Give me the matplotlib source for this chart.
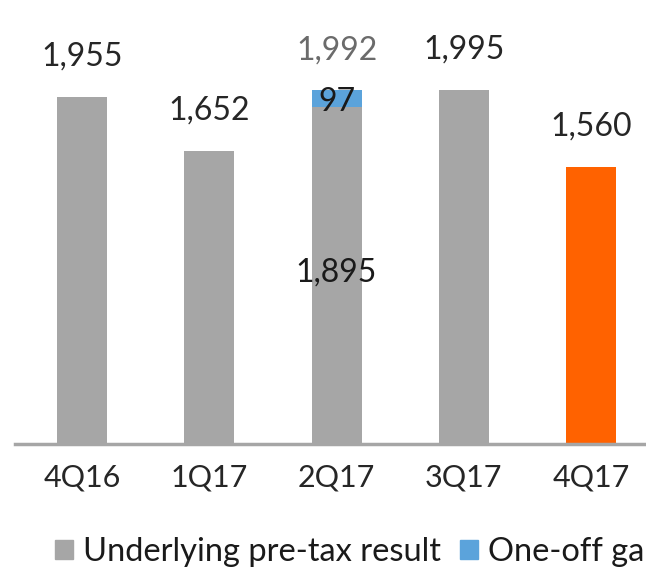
import matplotlib.pyplot as plt
from matplotlib.patches import Patch

quarters = ["4Q16", "1Q17", "2Q17", "3Q17", "4Q17"]
underlying = [1955, 1652, 1895, 1995, 1560]
one_off = [0, 0, 97, 0, 0]
totals = [1955, 1652, 1992, 1995, 1560]

grey = "#A6A6A6"
orange = "#FF6200"
blue = "#5BA3DB"

plt.rcParams['font.family'] = ['Lato', 'DejaVu Sans']

fig = plt.figure(figsize=(6.46, 5.69), dpi=100)
ax = fig.add_axes([15 / 646, 125 / 569, 1.0, 444 / 569])

x = list(range(len(quarters)))
colors = [grey, grey, grey, grey, orange]
ax.bar(x, underlying, width=0.393, color=colors, zorder=2)
ax.bar(x, one_off, width=0.393, bottom=underlying, color=blue, zorder=2)

ax.set_xlim(-0.527, -0.527 + 646 / 127.25)
ax.set_ylim(0, 2500)

# value labels above the bars
for i, t in enumerate(totals):
    col = "#6b6b6b" if one_off[i] else "#262626"
    ax.text(i, t + 225, f"{t:,}", ha="center", va="center", fontsize=23, color=col)
ax.text(2, underlying[2] + 30, "97", ha="center", va="center", fontsize=23, color="#1a1a1a")
ax.text(2, underlying[2] / 2 + 20, f"{underlying[2]:,}", ha="center", va="center",
        fontsize=23, color="#1a1a1a")

for s in ["top", "right", "left"]:
    ax.spines[s].set_visible(False)
ax.spines["bottom"].set_color(grey)
ax.spines["bottom"].set_linewidth(2.5)
ax.set_yticks([])
ax.set_xticks(x)
ax.set_xticklabels(quarters, fontsize=22, color="#262626")
ax.tick_params(axis="x", length=0, pad=14)

handles = [Patch(color=grey), Patch(color=blue)]
fig.legend(handles, ["Underlying pre-tax result", "One-off gain"],
           loc="center left", bbox_to_anchor=(55 / 646, 1 - 552 / 569),
           ncol=2, frameon=False, fontsize=23.5, handlelength=0.55, handleheight=0.55,
           handletextpad=0.3, columnspacing=0.6, borderpad=0, borderaxespad=0,
           labelcolor="#1a1a1a")

fig.savefig("out.png", dpi=100)
